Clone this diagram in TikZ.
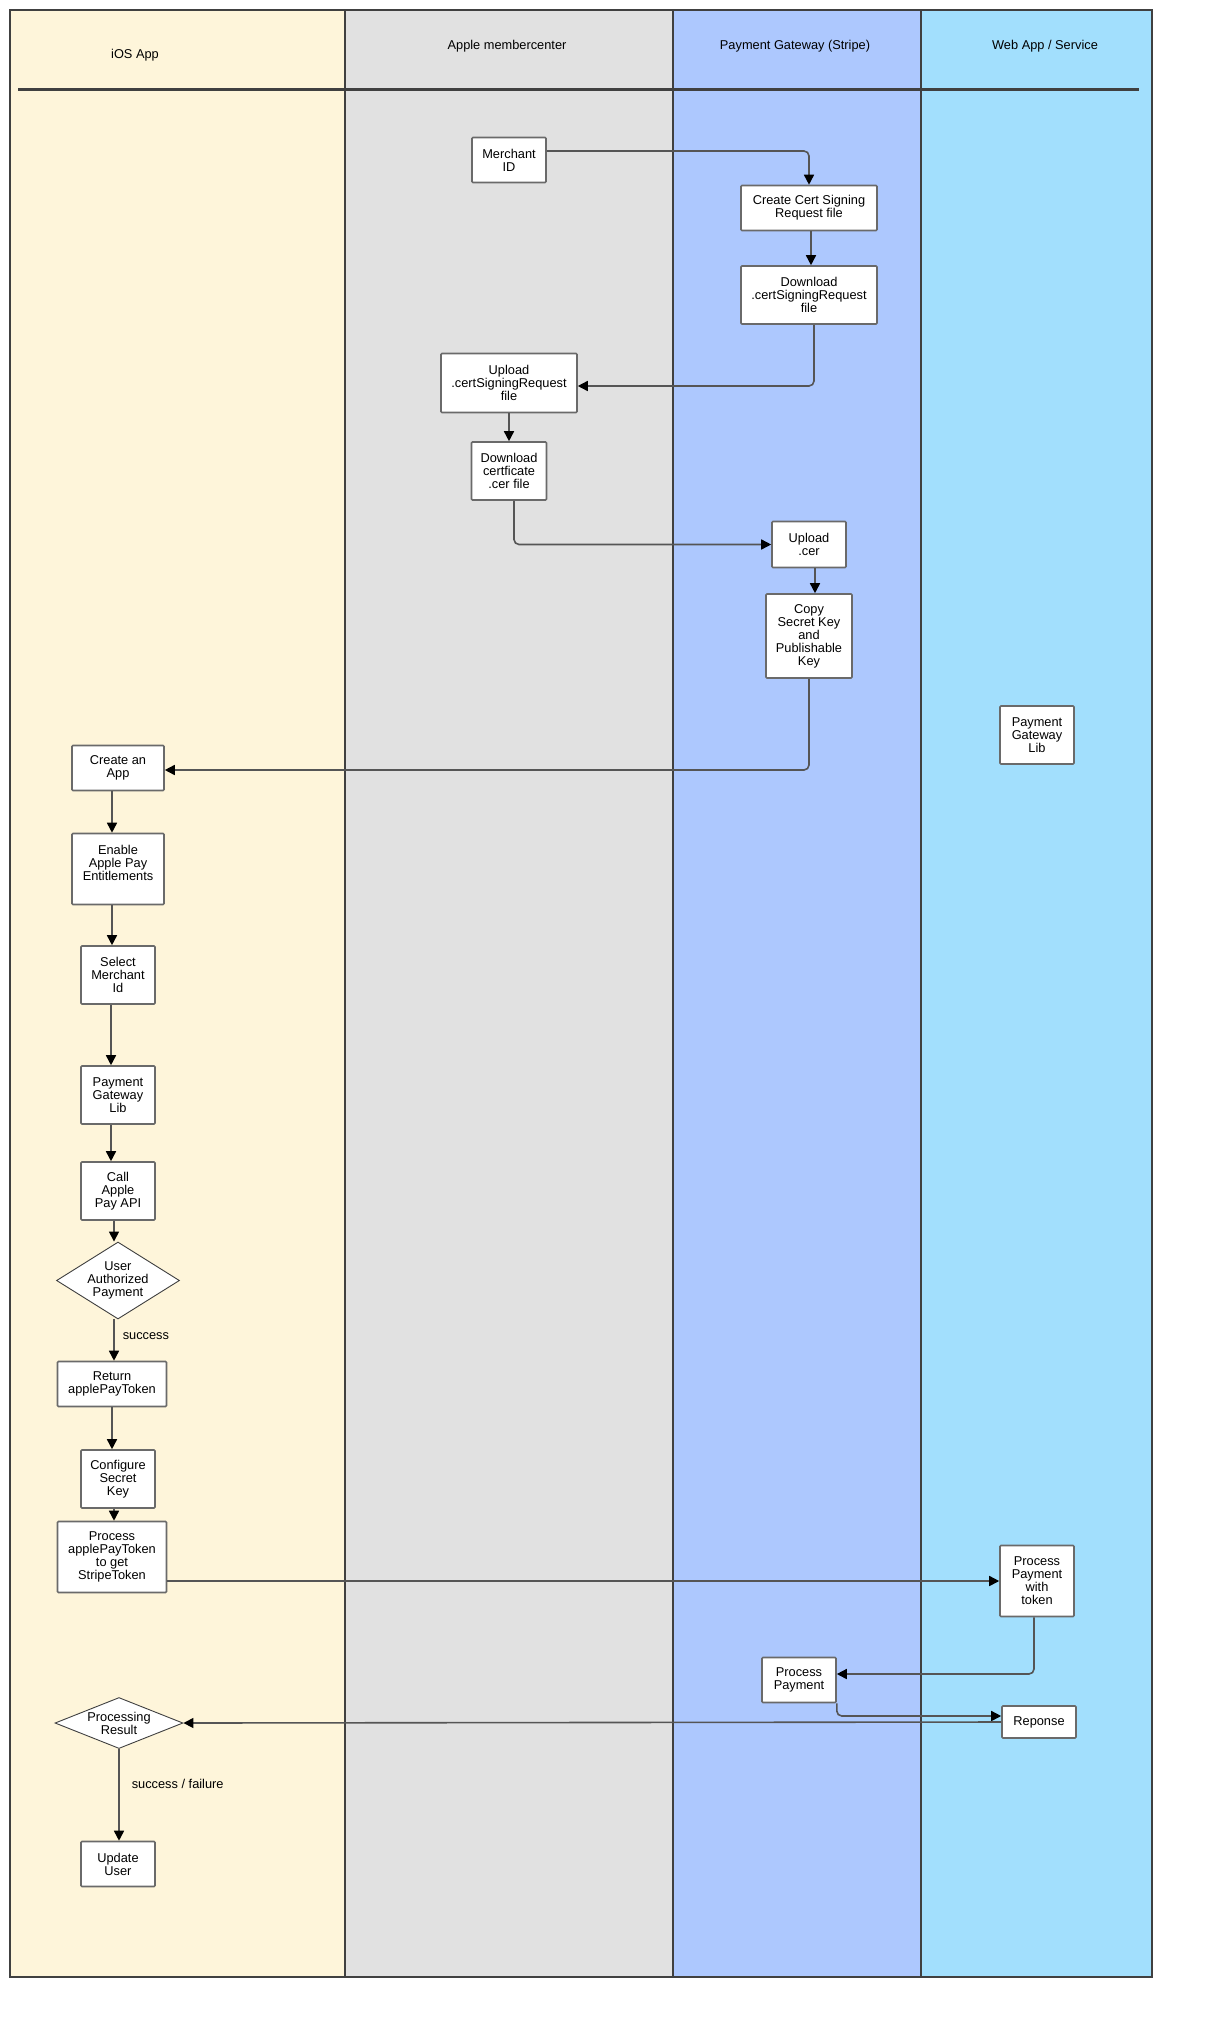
\documentclass[tikz,border=0pt]{standalone}
\usepackage{fontspec}
\setmainfont{Liberation Sans}
\usepackage{tikz}
\usetikzlibrary{positioning,%
  shapes.geometric,%
  arrows.meta,%
  calc
}

\definecolor{iosbg}{HTML}{FEF5DA}
\definecolor{applebg}{HTML}{E1E1E1}
\definecolor{stripebg}{HTML}{ADC8FE}
\definecolor{webbg}{HTML}{A2DFFD}
\definecolor{lanegray}{HTML}{404040}
\definecolor{boxgray}{HTML}{6A6A6A}
\definecolor{linegray}{HTML}{555555}

\begin{document}
\begin{tikzpicture}
                    [
                        x=1pt, y=-1pt,
                        every node/.style={font=\fontsize{12.8}{13}\selectfont, align=center},
                        box/.style={draw=boxgray, fill=white, line width=1.6pt, rounded corners=1pt, inner sep=1pt, minimum width=74pt, minimum height=45pt},
                        decision/.style={diamond, draw=black!75, fill=white, line width=0.9pt, inner sep=0pt},
                        flow/.style={draw=linegray, line width=1.6pt, rounded corners=5pt, -{Triangle[length=10pt,width=10pt,color=black]}},
                        flowtext/.style={right, inner sep=0pt},
                        lane/.style={draw=lanegray, line width=1.6pt}
                    ]
                    
                    % Hintergrund und Bahnen
                    \fill[white] (0,0) rectangle (1210,2018);
                    \useasboundingbox (0,0) rectangle (1210,2018);
                    \draw[lane, fill=iosbg] (10,10) rectangle (345,1977);
                    \draw[lane, fill=applebg] (345,10) rectangle (673,1977);
                    \draw[lane, fill=stripebg] (673,10) rectangle (921,1977);
                    \draw[lane, fill=webbg] (921,10) rectangle (1152,1977);
                    \draw[draw=lanegray, line width=3pt] (18,89) -- (1139,89);
                    
                    \node (hios) at (135,55) {iOS App};
                    \node (happle) at (507,46) {Apple membercenter};
                    \node (hstripe) at (795,46) {Payment Gateway (Stripe)};
                    \node (hweb) at (1045,46) {Web App / Service};
                    
                    % Zertifikate
                    \node[box] (merchant) at (509,160) {Merchant\\ID};
                    \node[box, minimum width=136pt] (csr) at (809,208) {Create Cert Signing\\Request file};
                    \node[box, minimum width=136pt, minimum height=58pt] (dlcsr) at (809,295) {Download\\.certSigningRequest\\file};
                    \node[box, minimum width=136pt, minimum height=59pt] (upcsr) at (509,383) {Upload\\.certSigningRequest\\file};
                    \node[box, minimum width=75pt, minimum height=58pt] (dlcer) at (509,471) {Download\\certficate\\.cer file};
                    \node[box, minimum height=46pt] (upcer) at (809,544.5) {Upload\\.cer};
                    \node[box, minimum width=86pt, minimum height=84pt] (keys) at (809,636) {Copy\\Secret Key\\and\\Publishable\\Key};
                    
                    % App
                    \node[box, minimum width=92pt] (app) at (118,768) {Create an\\App};
                    \node[box, minimum width=92pt, minimum height=71pt] (entitle) at (118,869) {Enable\\Apple Pay\\Entitlements\\\mbox{}};
                    \node[box, minimum height=58pt] (selmid) at (118,975) {Select\\Merchant\\Id};
                    \node[box, minimum height=58pt] (lib) at (118,1095) {Payment\\Gateway\\Lib};
                    \node[box, minimum height=58pt] (call) at (118,1191) {Call\\Apple\\Pay API};
                    \node[decision, aspect=1.6, minimum width=123pt, minimum height=77pt] (auth) at (118,1280.5) {User\\Authorized\\Payment};
                    \node[box, minimum width=109pt] (ret) at (112,1384) {Return\\applePayToken};
                    \node[box, minimum height=58pt] (secret) at (118,1479) {Configure\\Secret\\Key};
                    \node[box, minimum width=109pt, minimum height=71pt] (token) at (112,1557) {Process\\applePayToken\\to get\\StripeToken};
                    \node[decision, aspect=2.5, minimum width=128pt, minimum height=51pt] (result) at (119,1723) {Processing\\Result};
                    \node[box] (update) at (118,1864) {Update\\User};
                    
                    % Server
                    \node[box, minimum height=58pt] (weblib) at (1037,735) {Payment\\Gateway\\Lib};
                    \node[box, minimum height=71pt] (withtoken) at (1037,1581) {Process\\Payment\\with\\token};
                    \node[box] (procpay) at (799,1680) {Process\\Payment};
                    \node[box, minimum height=32pt] (reponse) at (1039,1722) {Reponse};
                    
                    % Pfeile
                    \draw[flow] ([yshift=9pt]merchant.east) -| (csr.north);
                    \draw[flow] ([xshift=2pt]csr.south) -- ([xshift=2pt]dlcsr.north);
                    \draw[flow] ([xshift=5pt]dlcsr.south) |- ([yshift=-3pt]upcsr.east);
                    \draw[flow] (upcsr.south) -- (dlcer.north);
                    \draw[flow] ([xshift=5pt]dlcer.south) |- (upcer.west);
                    \draw[flow] ([xshift=6pt]upcer.south) -- ([xshift=6pt]keys.north);
                    \draw[flow] (keys.south) |- ([yshift=-2pt]app.east);
                    \draw[flow] ([xshift=-6pt]app.south) -- ([xshift=-6pt]entitle.north);
                    \draw[flow] ([xshift=-6pt]entitle.south) -- ([xshift=-6pt]selmid.north);
                    \draw[flow] ([xshift=-7pt]selmid.south) -- ([xshift=-7pt]lib.north);
                    \draw[flow] ([xshift=-7pt]lib.south) -- ([xshift=-7pt]call.north);
                    \draw[flow] ([xshift=-4pt]call.south) -- ([xshift=-4pt]call.south |- auth.north);
                    \draw[flow] ([xshift=-4pt]auth.south) -- node[flowtext, pos=0.4, xshift=8pt] {success} ([xshift=-4pt]auth.south |- ret.north);
                    \draw[flow] (ret.south) -- (ret.south |- secret.north);
                    \draw[flow] ([xshift=-4pt]secret.south) -- ([xshift=-4pt]secret.south |- token.north);
                    \draw[flow] (token.east |- withtoken.west) -- (withtoken.west);
                    \draw[flow] ([xshift=-3pt]withtoken.south) |- ([yshift=6pt]procpay.east);
                    \draw[flow] (procpay.south east) |- ([yshift=6pt]reponse.west);
                    \draw[flow] (reponse.west) -- (result.east);
                    \draw[flow] (result.south) -- node[flowtext, pos=0.38, xshift=12pt] {success / failure} (result.south |- update.north);
                \end{tikzpicture}
\end{document}
